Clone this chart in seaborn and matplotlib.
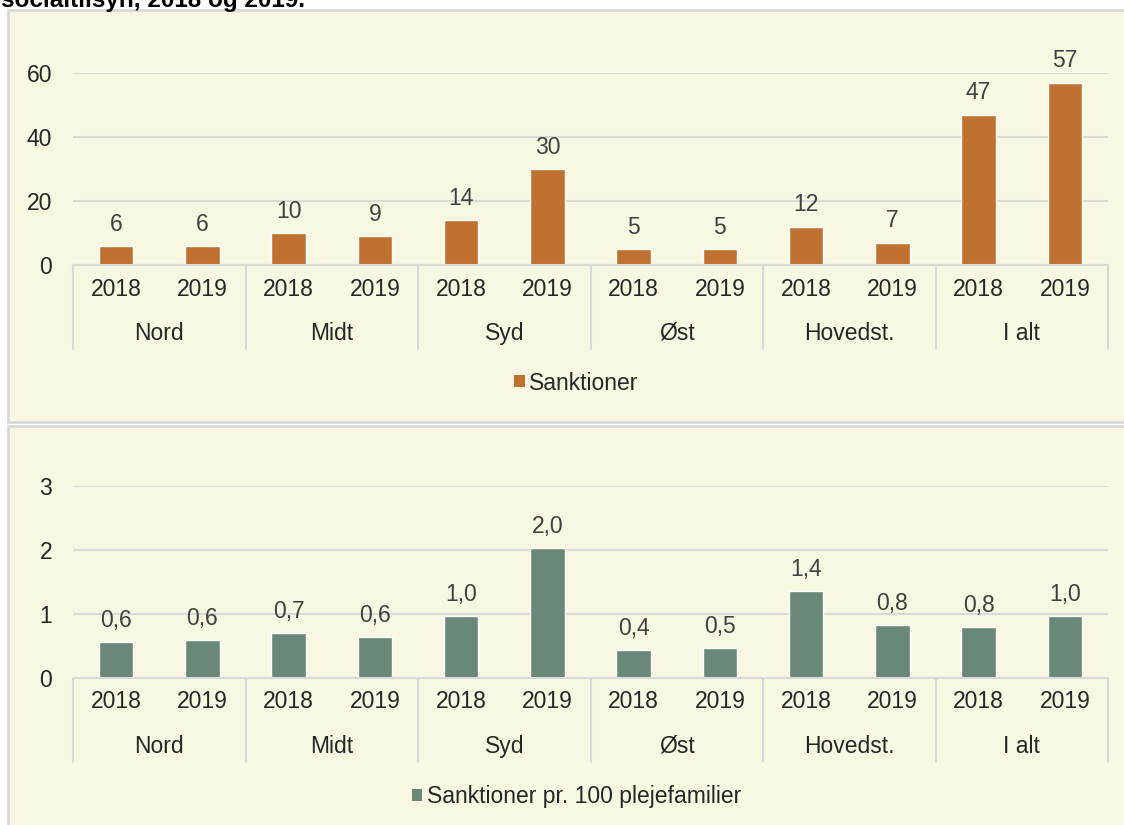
import matplotlib
matplotlib.use("Agg")
import matplotlib.pyplot as plt
import matplotlib.transforms as mtransforms
from matplotlib.patches import Rectangle, Patch
import seaborn as sns
import pandas as pd

# ---------------- data ----------------
regions = ["Nord", "Midt", "Syd", "Øst", "Hovedst.", "I alt"]
years = ["2018", "2019"]
sanktioner = [6, 6, 10, 9, 14, 30, 5, 5, 12, 7, 47, 57]
pr100 = [0.56, 0.59, 0.70, 0.64, 0.97, 2.03, 0.44, 0.47, 1.36, 0.83, 0.80, 0.97]
top_ticks = [0, 20, 40, 60]
bottom_ticks = [0, 1, 2, 3]
title = "socialtilsyn, 2018 og 2019."
legend_top = "Sanktioner"
legend_bottom = "Sanktioner pr. 100 plejefamilier"

# ---------------- style ----------------
sns.set_theme(style="white")
plt.rcParams['font.family'] = ['Liberation Sans', 'DejaVu Sans']

W, H = 1124, 825
BG = "#F8F7E2"
EDGE = "#D9D9D9"
GRID = "#D9D9D9"
ORANGE = "#C0702F"
GREEN = "#6A8877"
TXT = "#262626"
LBL = "#404040"
FS = 16.5

fig = plt.figure(figsize=(W / 100, H / 100), dpi=100)
fig.patch.set_facecolor("white")

# panel backgrounds
fig.add_artist(Rectangle((8 / W, 1 - 422 / H), (1140 - 8) / W, (422 - 10) / H,
                         transform=fig.transFigure, facecolor=BG, edgecolor=EDGE,
                         lw=2, zorder=0))
fig.add_artist(Rectangle((8 / W, 1 - 840 / H), (1140 - 8) / W, (840 - 426) / H,
                         transform=fig.transFigure, facecolor=BG, edgecolor=EDGE,
                         lw=2, zorder=0))

# title (cut off at the top of the picture, as in the reference)
fig.text(1 / W, 1 - 7 / H, title, fontsize=17.5, fontweight="bold", color="black",
         ha="left", va="baseline")

cats = [f"{r} {y}" for r in regions for y in years]
year_labels = [y for r in regions for y in years]


def panel(ax, values, ticks, color, fmt, leg_label, leg_y):
    df = pd.DataFrame({"cat": cats, "val": values})
    sns.barplot(data=df, x="cat", y="val", order=cats, color=color, width=0.4,
                saturation=1, ax=ax, zorder=3)
    ax.set_facecolor("none")
    ax.set_xlim(-0.5, len(cats) - 0.5)
    ax.set_ylim(ticks[0], ticks[-1])
    ax.set_yticks(ticks)
    ax.set_yticklabels([str(t) for t in ticks], fontsize=FS, color=TXT)
    ax.set_xticks(range(len(cats)))
    ax.set_xticklabels(year_labels, fontsize=FS, color=TXT)
    ax.tick_params(axis="both", length=0)
    ax.tick_params(axis="y", pad=15)
    ax.tick_params(axis="x", pad=9)
    ax.set_xlabel("")
    ax.set_ylabel("")
    for s in ["top", "right", "left"]:
        ax.spines[s].set_visible(False)
    ax.spines["bottom"].set_color(EDGE)
    ax.spines["bottom"].set_linewidth(1.5)
    ax.spines["bottom"].set_zorder(4)
    ax.yaxis.grid(True, color=GRID, lw=1.5, zorder=0)
    ax.set_axisbelow(True)

    # value labels
    for i, v in enumerate(values):
        ax.annotate(fmt(v), (i, v), xytext=(0, 11), textcoords="offset points",
                    ha="center", va="baseline", fontsize=FS, color=LBL,
                    annotation_clip=False)

    # multi-level category axis
    trans = mtransforms.blended_transform_factory(ax.transData, ax.transAxes)
    for k in range(len(regions) + 1):
        b = -0.5 + 2 * k
        ax.plot([b, b], [0, -0.44], transform=trans, clip_on=False, color=EDGE,
                lw=1.5, zorder=4)
    for k, r in enumerate(regions):
        ax.text(2 * k + 0.5, -0.355, r, transform=trans, ha="center", va="center",
                fontsize=FS, color=TXT)

    fig.legend(handles=[Patch(facecolor=color, edgecolor="none", label=leg_label)],
               loc="center", bbox_to_anchor=(0.513, leg_y), frameon=False,
               fontsize=FS, handlelength=0.45, handleheight=0.45,
               handletextpad=0.2, labelcolor=TXT)


ax1 = fig.add_axes([73 / W, 1 - 265 / H, (1108 - 73) / W, 192 / H])
panel(ax1, sanktioner, top_ticks, ORANGE, lambda v: f"{v:d}", legend_top,
      1 - 383 / H)

ax2 = fig.add_axes([73 / W, 1 - 678 / H, (1108 - 73) / W, 192 / H])
panel(ax2, pr100, bottom_ticks, GREEN, lambda v: f"{v:.1f}".replace(".", ","),
      legend_bottom, 1 - 797 / H)

fig.savefig("out.png", dpi=100, facecolor=fig.get_facecolor())
